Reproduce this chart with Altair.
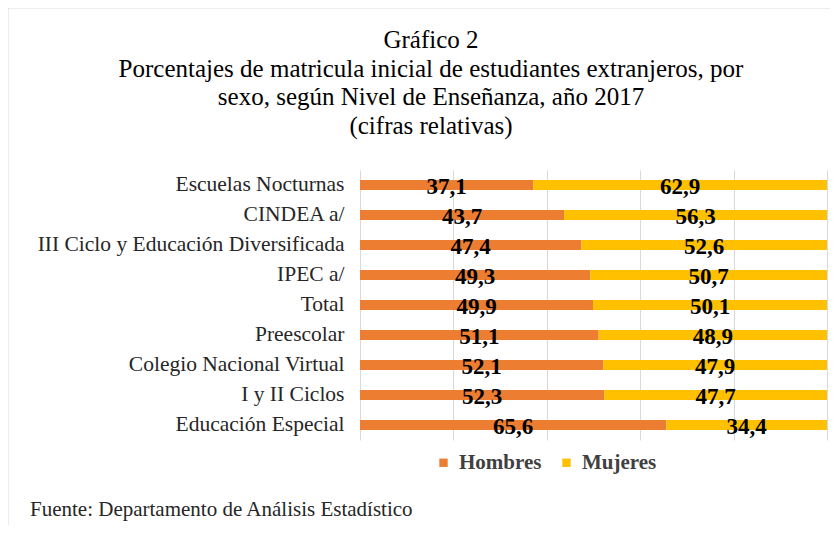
import altair as alt
import pandas as pd

niveles = [
    "Escuelas Nocturnas",
    "CINDEA a/",
    "III Ciclo y Educación Diversificada",
    "IPEC  a/",
    "Total",
    "Preescolar",
    "Colegio Nacional Virtual",
    "I y II Ciclos",
    "Educación Especial",
]
hombres = [37.1, 43.7, 47.4, 49.3, 49.9, 51.1, 52.1, 52.3, 65.6]
mujeres = [62.9, 56.3, 52.6, 50.7, 50.1, 48.9, 47.9, 47.7, 34.4]
series = ["Hombres", "Mujeres"]
colores = ["#ED7D31", "#FFC000"]
ticks_x = [0, 20, 40, 60, 80, 100]
titulo = [
    "Gráfico 2\n"
    "Porcentajes de matricula inicial  de estudiantes extranjeros, por\n"
    "sexo, según Nivel de Enseñanza, año 2017\n"
    "(cifras relativas)"
]
fuente = ["Fuente: Departamento de Análisis Estadístico"]

rows = []
for n, h, m in zip(niveles, hombres, mujeres):
    for s, v, ini, o in ((series[0], h, 0.0, 0), (series[1], m, h, 1)):
        rows.append(dict(nivel=n, sexo=s, valor=v, inicio=ini, fin=ini + v,
                         medio=ini + v / 2, orden=o,
                         etiqueta=f"{v:.1f}".replace(".", ",")))
df = pd.DataFrame(rows)

SERIF = "'Liberation Serif', 'Times New Roman', Times, serif"

xscale = alt.Scale(domain=[0, 100], nice=False, zero=True)
yenc = alt.Y("nivel:N", sort=niveles, title=None,
             axis=alt.Axis(labelFont=SERIF, labelFontSize=21.5, labelColor="#262626",
                           ticks=False, domain=False, labelPadding=16, labelLimit=400))

bars = alt.Chart(df).mark_bar(size=10).encode(
    x=alt.X("inicio:Q", scale=xscale, title=None,
            axis=alt.Axis(values=ticks_x, labels=False, ticks=False, domain=False,
                          grid=True, gridColor="#d9d9d9", gridWidth=1)),
    x2="fin:Q",
    y=yenc,
    color=alt.Color("sexo:N", scale=alt.Scale(domain=series, range=colores),
                    legend=alt.Legend(title=None, orient="none", direction="horizontal",
                                      legendX=73, legendY=282, symbolType="square",
                                      symbolSize=70, symbolStrokeWidth=0,
                                      labelFont=SERIF, labelFontSize=21,
                                      labelFontWeight="bold", labelColor="#404040",
                                      columnPadding=14, labelOffset=5, padding=0)),
)

labels = alt.Chart(df).mark_text(font=SERIF, fontSize=23, fontWeight="bold",
                                 color="black", dy=2).encode(
    x=alt.X("medio:Q", scale=xscale),
    y=alt.Y("nivel:N", sort=niveles),
    text="etiqueta:N",
)

title = alt.Chart(pd.DataFrame({"t": titulo})).mark_text(
    font=SERIF, fontSize=25, color="black", align="center", baseline="top",
    lineBreak="\n", lineHeight=28.5
).encode(x=alt.value(71), y=alt.value(-142), text="t:N")

footer = alt.Chart(pd.DataFrame({"t": fuente})).mark_text(
    font=SERIF, fontSize=21, color="#262626", align="left", baseline="middle"
).encode(x=alt.value(-330), y=alt.value(340), text="t:N")

frame = alt.Chart(pd.DataFrame({"t": fuente})).mark_rect(
    fill="transparent", stroke="#d9d9d9", strokeWidth=1
).encode(x=alt.value(-352), x2=alt.value(600), y=alt.value(-162), y2=alt.value(500))

chart = alt.layer(frame, bars, labels, title, footer).properties(
    width=467,
    height=270,
    autosize=alt.AutoSizeParams(type="none"),
    padding={"left": 352, "top": 162, "right": 3, "bottom": 85},
).configure_view(stroke=None)

chart.save("out.html", embed_options={"renderer": "svg", "actions": False})
